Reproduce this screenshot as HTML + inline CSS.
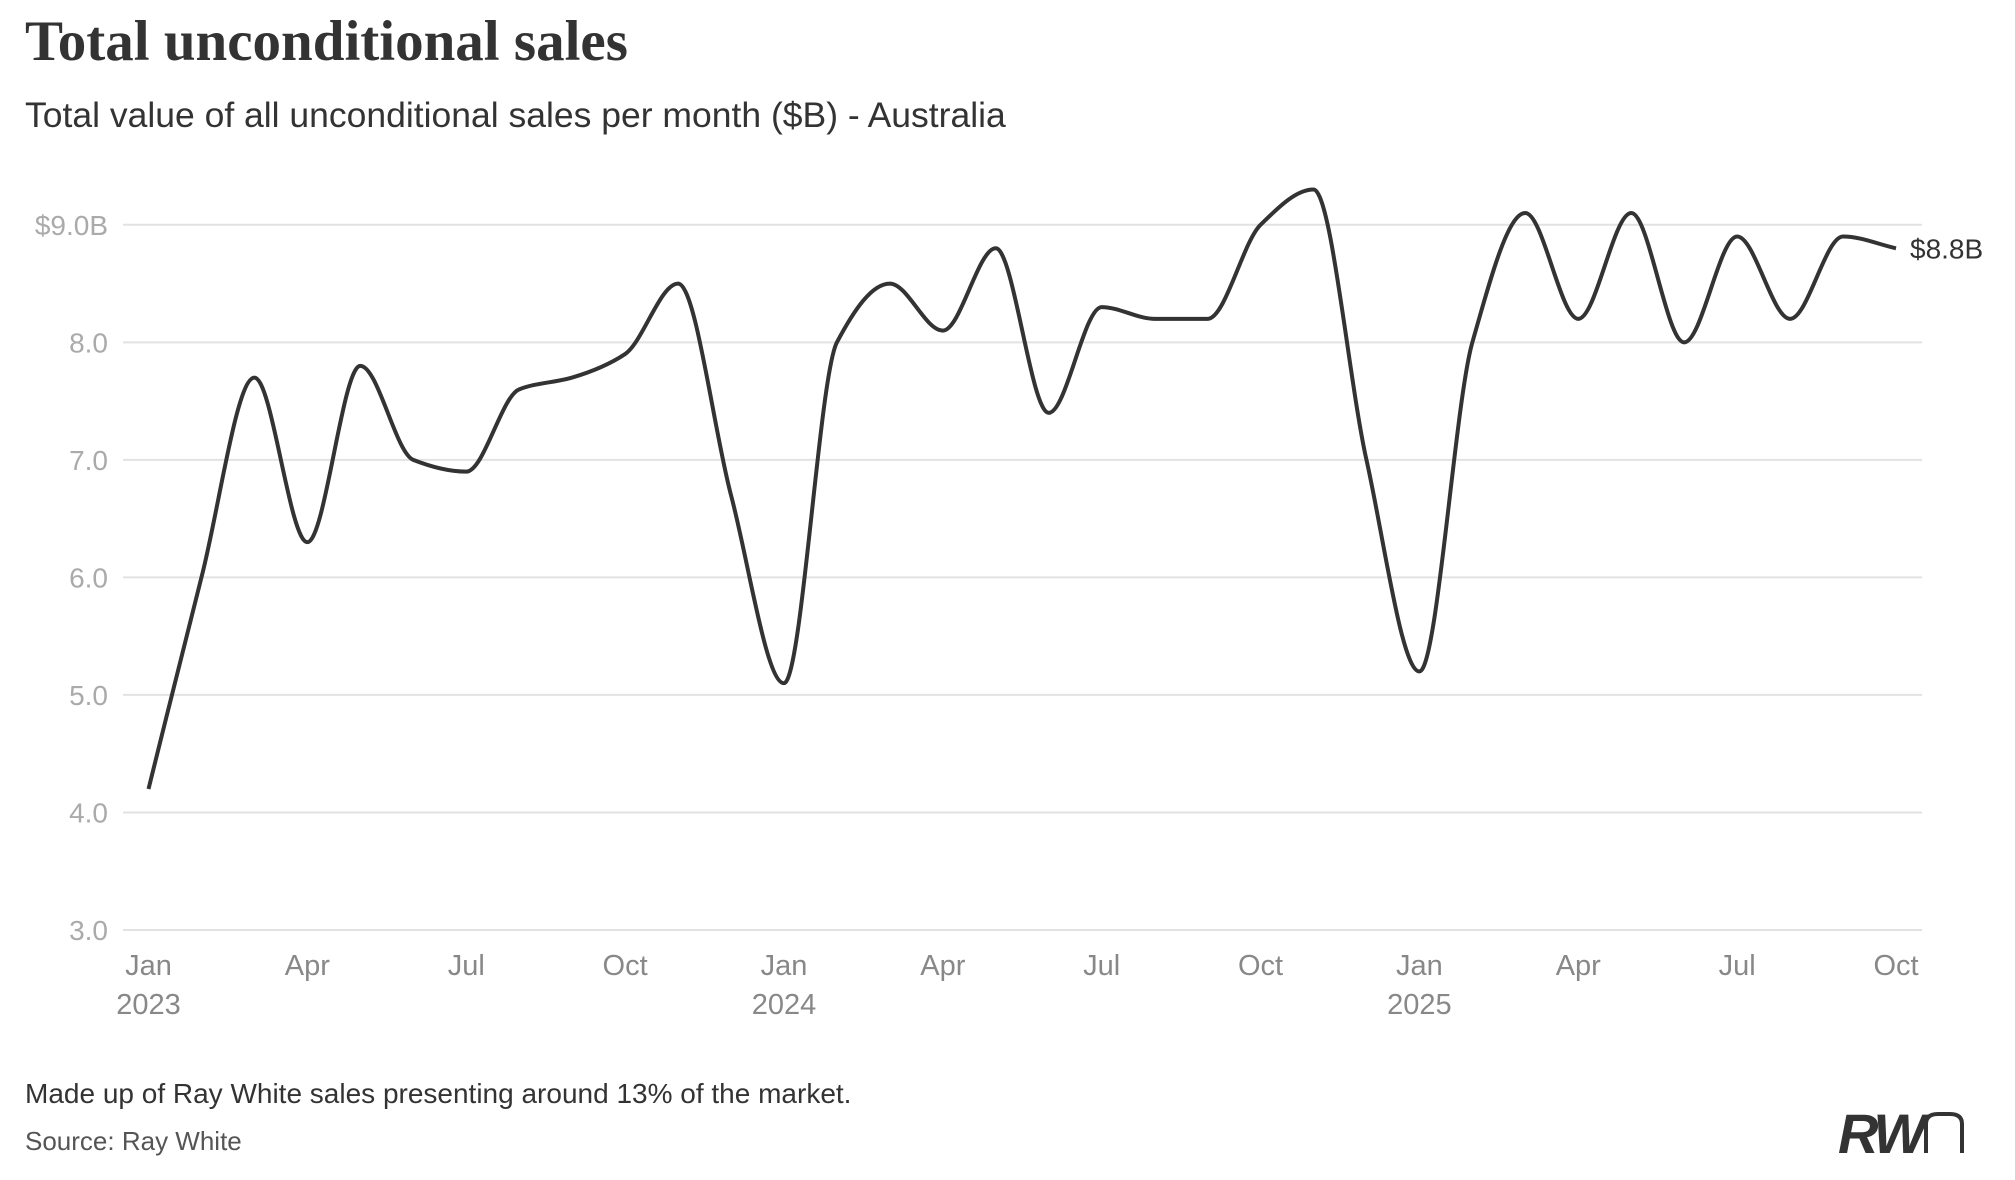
<!DOCTYPE html>
<html><head><meta charset="utf-8"><style>
body{margin:0;background:#fff;}
svg text{font-family:"Liberation Sans",sans-serif;}
</style></head><body>
<svg width="2015" height="1175" viewBox="0 0 2015 1175" xmlns="http://www.w3.org/2000/svg">
<text x="25" y="60" font-weight="bold" font-size="57" fill="#333" style="font-family:'Liberation Serif',serif">Total unconditional sales</text>
<text x="25" y="127" font-size="35.5" fill="#333">Total value of all unconditional sales per month ($B) - Australia</text>
<g id="grid"></g><g id="yl"></g><g id="xl"></g>
<path id="line" fill="none" stroke="#333" stroke-width="4" stroke-linejoin="round"/>
<text id="endlbl" font-size="28" fill="#333"></text>
<text x="25" y="1103" font-size="28" fill="#333">Made up of Ray White sales presenting around 13% of the market.</text>
<text x="25" y="1150" font-size="26" fill="#555">Source: Ray White</text>
<g>
<text x="1838" y="1153" font-size="56" font-weight="bold" font-style="italic" fill="#333" letter-spacing="-4">RW</text>
<path d="M1926 1153 V1124 Q1926 1114 1938 1114 H1950 Q1962 1114 1962 1124 V1153" fill="none" stroke="#333" stroke-width="4"/>
</g>
</svg>
<script>
const months=["Jan","Feb","Mar","Apr","May","Jun","Jul","Aug","Sep","Oct","Nov","Dec"];
const values=[4.2,6.0,7.7,6.3,7.8,7.0,6.9,7.6,7.7,7.9,8.5,6.7,5.1,8.0,8.5,8.1,8.8,7.4,8.3,8.2,8.2,9.0,9.3,7.0,5.2,8.0,9.1,8.2,9.1,8.0,8.9,8.2,8.9,8.8];
const yTicks=[3,4,5,6,7,8,9];
const yTickLabels=["3.0","4.0","5.0","6.0","7.0","8.0","$9.0B"];
const startYear=2023;
const NS="http://www.w3.org/2000/svg";
const x0=148.5,x1=1905-9,gx0=123,gx1=1931-9;
const xs=i=>x0+(x1-x0)*i/(values.length-1);
const ys=v=>930-(v-3)*(930-224.8)/6;
const grid=document.getElementById('grid'),yl=document.getElementById('yl'),xl=document.getElementById('xl');
yTicks.forEach((t,k)=>{
  const l=document.createElementNS(NS,'line');
  l.setAttribute('x1',gx0);l.setAttribute('x2',gx1);l.setAttribute('y1',ys(t));l.setAttribute('y2',ys(t));
  l.setAttribute('stroke','#e2e2e2');l.setAttribute('stroke-width','2');
  
  
  grid.appendChild(l);
  const tx=document.createElementNS(NS,'text');
  tx.setAttribute('x',108);tx.setAttribute('y',ys(t)+10);tx.setAttribute('text-anchor','end');
  tx.setAttribute('font-size','28');tx.setAttribute('fill','#aaa');tx.textContent=yTickLabels[k];
  
  
  yl.appendChild(tx);
});
for(let i=0;i<values.length;i+=3){
  const m=months[i%12];
  const tx=document.createElementNS(NS,'text');
  tx.setAttribute('x',xs(i));tx.setAttribute('y',975);tx.setAttribute('text-anchor','middle');
  tx.setAttribute('font-size','29');tx.setAttribute('fill','#888');tx.textContent=m;
  
  
  xl.appendChild(tx);
  if(i%12===0){
    const ty=document.createElementNS(NS,'text');
    ty.setAttribute('x',xs(i));ty.setAttribute('y',1014);ty.setAttribute('text-anchor','middle');
    ty.setAttribute('font-size','29');ty.setAttribute('fill','#888');ty.textContent=startYear+i/12;
    
    
    xl.appendChild(ty);
  }
}
const P=values.map((v,i)=>[xs(i),ys(v)]);
const n=P.length,h=P[1][0]-P[0][0];
const dl=[];for(let i=0;i<n-1;i++)dl.push((P[i+1][1]-P[i][1])/h);
const m=[];
m[0]=dl[0];m[n-1]=dl[n-2];
for(let i=1;i<n-1;i++){
  if(dl[i-1]*dl[i]<=0)m[i]=0;
  else m[i]=2/(1/dl[i-1]+1/dl[i]);
}
let d='M'+P[0][0]+','+P[0][1];
for(let i=0;i<n-1;i++){
  const c1=[P[i][0]+h/3,P[i][1]+m[i]*h/3];
  const c2=[P[i+1][0]-h/3,P[i+1][1]-m[i+1]*h/3];
  d+=' C'+c1+' '+c2+' '+P[i+1];
}
document.getElementById('line').setAttribute('d',d);
const el=document.getElementById('endlbl'),last=P[n-1];
el.setAttribute('x',last[0]+14);el.setAttribute('y',last[1]+10);
el.textContent='$'+values[n-1].toFixed(1)+'B';
</script>
</body></html>
